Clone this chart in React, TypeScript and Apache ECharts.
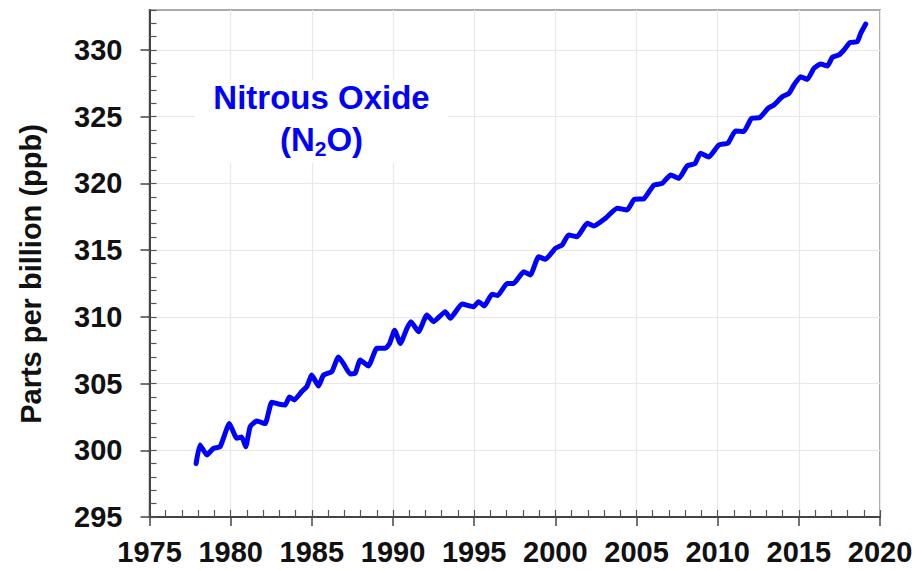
import React, { useEffect, useRef } from "react";
import * as echarts from "echarts";

const years = [
  1977.87, 1978.11, 1978.53, 1978.94, 1979.35, 1979.92, 1980.38, 1980.68, 1980.93, 1981.2,
  1981.61, 1982.12, 1982.53, 1982.94, 1983.36, 1983.62, 1983.91, 1984.38, 1984.69, 1985.0,
  1985.41, 1985.72, 1986.23, 1986.64, 1986.95, 1987.36, 1987.67, 1987.98, 1988.49, 1989.0,
  1989.52, 1989.79, 1990.1, 1990.45, 1990.86, 1991.1, 1991.57, 1992.09, 1992.5, 1993.22,
  1993.53, 1994.25, 1994.97, 1995.27, 1995.62, 1996.1, 1996.45, 1997.03, 1997.43, 1998.05,
  1998.46, 1998.97, 1999.39, 2000.0, 2000.42, 2000.82, 2001.34, 2001.96, 2002.37, 2003.09,
  2003.81, 2004.42, 2004.86, 2005.45, 2006.07, 2006.58, 2007.1, 2007.61, 2008.12, 2008.6,
  2008.94, 2009.45, 2010.07, 2010.64, 2011.1, 2011.61, 2012.08, 2012.6, 2013.1, 2013.46,
  2013.98, 2014.39, 2014.7, 2015.11, 2015.52, 2015.93, 2016.34, 2016.76, 2017.06, 2017.47,
  2017.78, 2018.15, 2018.6, 2018.81, 2019.12,
];

const ppb = [
  299.0, 300.4, 299.65, 300.15, 300.27, 302.0, 300.9, 301.0, 300.27, 301.77,
  302.2, 302.0, 303.6, 303.47, 303.4, 304.0, 303.77, 304.4, 304.77, 305.64,
  304.82, 305.64, 305.89, 307.0, 306.5, 305.72, 305.77, 306.77, 306.32, 307.64,
  307.64, 308.0, 309.0, 308.0, 309.14, 309.64, 308.89, 310.14, 309.64, 310.39,
  309.89, 310.96, 310.76, 311.14, 310.82, 311.7, 311.6, 312.51, 312.51, 313.38,
  313.14, 314.51, 314.31, 315.14, 315.39, 316.14, 316.01, 317.01, 316.81, 317.39,
  318.14, 318.01, 318.8, 318.85, 319.88, 320.0, 320.63, 320.38, 321.32, 321.48,
  322.26, 321.98, 322.88, 323.03, 323.94, 323.9, 324.88, 324.94, 325.63, 325.88,
  326.5, 326.75, 327.38, 328.0, 327.8, 328.63, 328.95, 328.8, 329.45, 329.63,
  330.0, 330.55, 330.63, 331.25, 331.95,
];

const yTickValues = [295, 300, 305, 310, 315, 320, 325, 330];

const titleLine1 = "Nitrous Oxide";
const yAxisName = "Parts per billion (ppb)";

const FONT = "'Liberation Sans', Arial, Helvetica, sans-serif";

export default function App() {
  const ref = useRef<HTMLDivElement>(null);

  useEffect(() => {
    if (!ref.current) return;
    const chart = echarts.init(ref.current, null, { renderer: "svg" });
    const data = years.map((y, i) => [y, ppb[i]]);
    const labelStyle = {
      fontFamily: FONT,
      fontWeight: "bold" as const,
      fontSize: 29,
      color: "#111",
    };
    chart.setOption({
      animation: false,
      backgroundColor: "#fff",
      grid: {
        left: 149.5,
        right: 43,
        top: 10,
        bottom: 54,
        show: true,
        borderColor: "#aaa",
        borderWidth: 2,
        backgroundColor: "transparent",
      },
      xAxis: [
        {
          type: "value",
          min: 1975,
          max: 2020,
          interval: 5,
          position: "bottom",
          axisLine: { show: true, onZero: false, lineStyle: { color: "#444", width: 2 } },
          axisTick: { show: true, inside: false, length: 9, lineStyle: { color: "#444", width: 1.5 } },
          splitLine: { show: true, lineStyle: { color: "#e8e8e8", width: 1.2 } },
          axisLabel: { ...labelStyle, margin: 20, formatter: (v: number) => String(v) },
        },
        {
          type: "value",
          min: 1975,
          max: 2020,
          interval: 1,
          position: "bottom",
          axisLine: { show: false },
          axisTick: { show: true, inside: true, length: 7, lineStyle: { color: "#555", width: 1.2 } },
          splitLine: { show: false },
          axisLabel: { show: false },
        },
      ],
      yAxis: [
        {
          type: "value",
          min: 295,
          max: 333,
          interval: 5,
          position: "left",
          axisLine: { show: true, onZero: false, lineStyle: { color: "#444", width: 2 } },
          axisTick: {
            show: true,
            inside: false,
            length: 9,
            customValues: yTickValues,
            lineStyle: { color: "#444", width: 1.5 },
          },
          splitLine: { show: true, lineStyle: { color: "#e8e8e8", width: 1.2 } },
          axisLabel: {
            ...labelStyle,
            margin: 27,
            customValues: yTickValues,
            formatter: (v: number) => String(v),
          },
        },
        {
          type: "value",
          min: 295,
          max: 333,
          interval: 1,
          position: "left",
          axisLine: { show: false },
          axisTick: { show: true, inside: true, length: 7, lineStyle: { color: "#555", width: 1.2 } },
          splitLine: { show: false },
          axisLabel: { show: false },
        },
      ],
      graphic: [
        {
          type: "rect",
          z: 5,
          shape: { x: 195, y: 80, width: 253, height: 83 },
          style: { fill: "#fff" },
        },
        {
          type: "text",
          z: 6,
          x: 321.5,
          y: 97,
          style: {
            text: titleLine1,
            fontFamily: FONT,
            fontWeight: "bold",
            fontSize: 33,
            fill: "#0000ff",
            align: "center",
            verticalAlign: "middle",
          },
        },
        {
          type: "text",
          z: 6,
          x: 321.5,
          y: 139,
          style: {
            text: "{a|(N}{s|2}{a|O)}",
            align: "center",
            verticalAlign: "middle",
            rich: {
              a: {
                fontFamily: FONT,
                fontWeight: "bold",
                fontSize: 33,
                lineHeight: 40,
                fill: "#0000ff",
                color: "#0000ff",
              },
              s: {
                fontFamily: FONT,
                fontWeight: "bold",
                fontSize: 21,
                lineHeight: 21,
                verticalAlign: "bottom",
                fill: "#0000ff",
                color: "#0000ff",
              },
            },
          },
        },
        {
          type: "text",
          z: 6,
          x: 31,
          y: 274,
          rotation: Math.PI / 2,
          style: {
            text: yAxisName,
            fontFamily: FONT,
            fontWeight: "bold",
            fontSize: 29,
            fill: "#111",
            align: "center",
            verticalAlign: "middle",
          },
        },
      ],
      series: [
        {
          type: "line",
          xAxisIndex: 0,
          yAxisIndex: 0,
          data,
          showSymbol: false,
          symbol: "none",
          smooth: 0.15,
          z: 10,
          lineStyle: { color: "#0000ff", width: 5, cap: "round", join: "round" },
        },
      ],
    });
    return () => chart.dispose();
  }, []);

  return (
    <div
      ref={ref}
      style={{ position: "fixed", left: 0, top: 0, width: 923, height: 571, background: "#fff" }}
    />
  );
}
